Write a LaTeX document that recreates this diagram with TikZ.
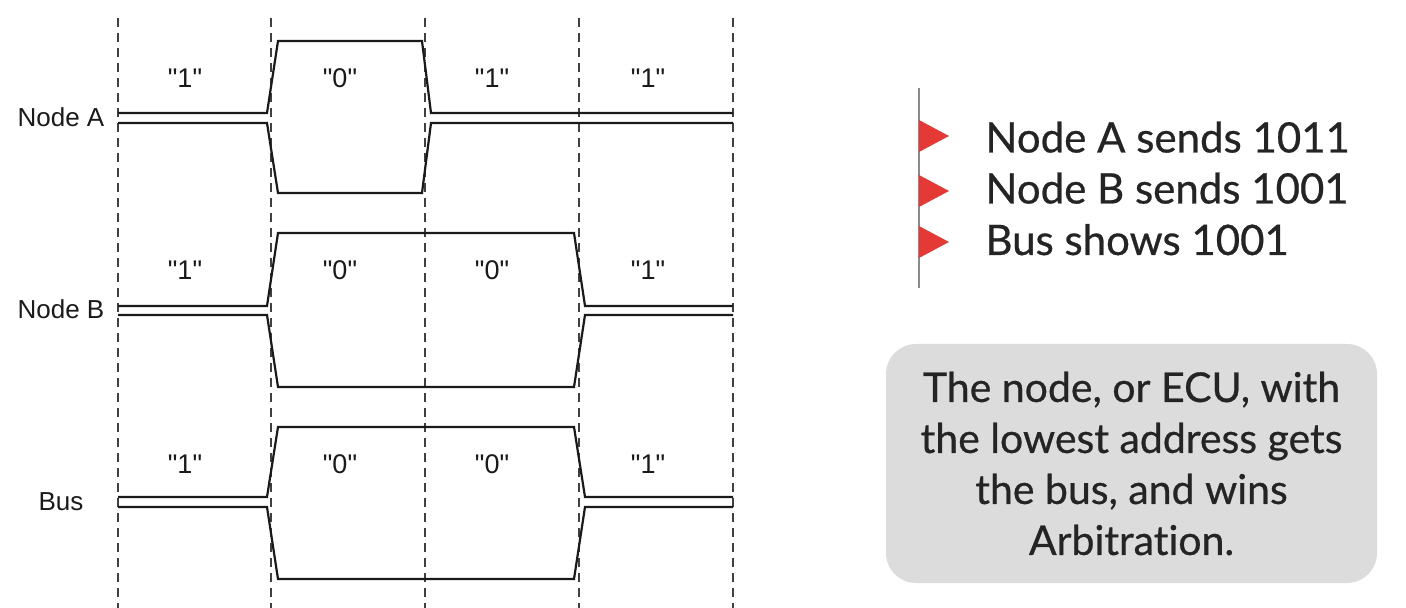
\documentclass[tikz,border=0pt]{standalone}
\usepackage{fontspec}
\setmainfont{Liberation Sans}
\newfontfamily\latofont{Lato}[FakeBold=0.6,Ligatures={NoCommon}]
\definecolor{wave}{HTML}{1A1A1A}
\definecolor{dashc}{HTML}{404040}
\definecolor{txt}{HTML}{242424}
\definecolor{boxgray}{HTML}{DCDCDC}
\definecolor{redtri}{HTML}{E53935}
\definecolor{barc}{HTML}{8A8A8A}
\newcommand{\qbit}[1]{\textquotedbl#1\textquotedbl}
\begin{document}
\begin{tikzpicture}[x=0.5pt,y=-0.5pt,
  wavel/.style={draw=wave,line width=1.1pt,line join=miter},
  gridl/.style={draw=dashc,line width=0.85pt,dash pattern=on 4.5pt off 3pt},
  bitlbl/.style={font=\fontsize{13.5}{15}\selectfont,text=wave,inner sep=0pt},
  rowlbl/.style={font=\fontsize{13}{15}\selectfont,text=wave,inner sep=0pt},
  bullettxt/.style={font=\latofont\fontsize{21}{24}\selectfont,text=txt,anchor=base west,inner sep=0pt},
  tri/.style={fill=redtri,draw=none}]
\useasboundingbox[fill=white] (0,0) rectangle (1406,608);
% dashed bit boundaries
\foreach \x/\n in {118/g0,271/g1,425/g2,579/g3,733/g4}{
  \coordinate (\n t) at (\x,18);
  \coordinate (\n b) at (\x,608);
  \draw[gridl] (\n t) -- (\n b);
}
% Node A
\draw[wavel] (118,113) -- (267,113) -- (278,41) -- (422,41) -- (431,113) -- (733,113);
\draw[wavel] (118,123) -- (267,123) -- (278,193) -- (422,193) -- (431,123) -- (733,123);
% Node B
\draw[wavel] (118,306) -- (267,306) -- (278,233) -- (574,233) -- (585,306) -- (733,306);
\draw[wavel] (118,315) -- (267,315) -- (278,387) -- (574,387) -- (585,315) -- (733,315);
% Bus
\draw[wavel] (118,497) -- (267,497) -- (278,427) -- (574,427) -- (585,497) -- (733,497);
\draw[wavel] (118,507) -- (267,507) -- (278,579) -- (574,579) -- (585,507) -- (733,507);
% row labels
\node[rowlbl] (la) at (61,117) {Node A};
\node[rowlbl] (lb) at (61,309) {Node B};
\node[rowlbl] (lbus) at (61,502) {Bus};
% bit labels
\node[bitlbl] (a1) at (185,78) {\qbit{1}};
\node[bitlbl] (a2) at (340,78) {\qbit{0}};
\node[bitlbl] (a3) at (492,78) {\qbit{1}};
\node[bitlbl] (a4) at (648,78) {\qbit{1}};
\node[bitlbl] (b1) at (185,270) {\qbit{1}};
\node[bitlbl] (b2) at (340,270) {\qbit{0}};
\node[bitlbl] (b3) at (492,270) {\qbit{0}};
\node[bitlbl] (b4) at (648,270) {\qbit{1}};
\node[bitlbl] (c1) at (185,464) {\qbit{1}};
\node[bitlbl] (c2) at (340,464) {\qbit{0}};
\node[bitlbl] (c3) at (492,464) {\qbit{0}};
\node[bitlbl] (c4) at (648,464) {\qbit{1}};
% bullet bar
\coordinate (bart) at (919,88);
\coordinate (barb) at (919,288);
\draw[draw=barc,line width=1pt] (bart) -- (barb);
\fill[tri] (919,120) -- (949,136) -- (919,152) -- cycle;
\fill[tri] (919,175) -- (949,191) -- (919,207) -- cycle;
\fill[tri] (919,226) -- (949,242) -- (919,258) -- cycle;
\node[bullettxt] (t1) at (985,152.5) {Node A sends 1011};
\node[bullettxt] (t2) at (985,203.5) {Node B sends 1001};
\node[bullettxt] (t3) at (985,255) {Bus shows 1001};
% message box
\node[fill=boxgray,rounded corners=15pt,minimum width=245.5pt,minimum height=119.5pt,
  align=center,text=txt,inner sep=0pt,
  font=\latofont\fontsize{20.5}{25.5}\selectfont] (msg) at (1131.5,463.5)
  {The node, or ECU, with\\the lowest address gets\\the bus, and wins\\Arbitration.};
\end{tikzpicture}
\end{document}
